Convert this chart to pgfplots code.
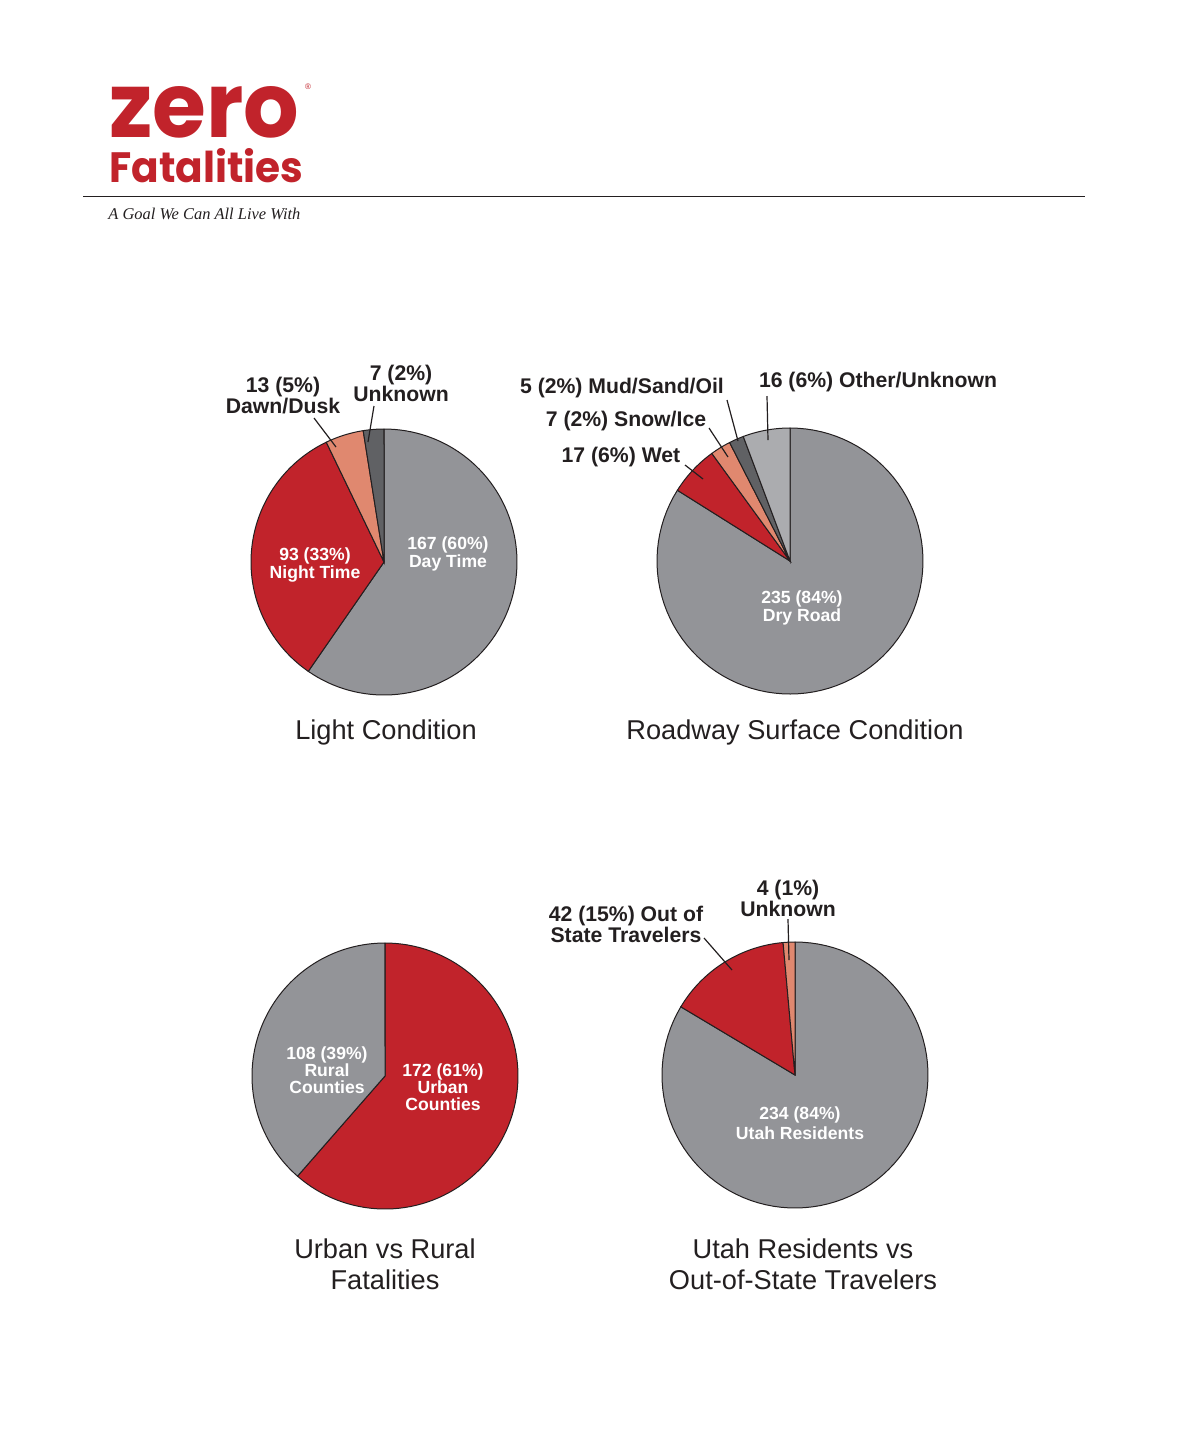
\documentclass[border=0pt]{standalone}
\usepackage{pgfplots}
\pgfplotsset{compat=1.18}
\usepackage{fontspec}
\setmainfont{Liberation Sans}
\newfontfamily\logofont{Poppins}
\newfontfamily\tagfont{Liberation Serif}
\definecolor{pgray}{HTML}{939498}
\definecolor{pred}{HTML}{C1232B}
\definecolor{psalmon}{HTML}{E0886F}
\definecolor{pdark}{HTML}{606164}
\definecolor{plight}{HTML}{ABACAF}
\definecolor{ptext}{HTML}{231F20}
% slice: cx, cy, cumulative before, value, colour  (total = 280)
\newcommand{\slice}[5]{%
  \addplot[draw=ptext, line width=0.5pt, fill=#5, mark=none,
    domain=-90+#3/280*360:-90+(#3+#4)/280*360, samples=90, variable=\t]
    ({#1+133*cos(\t)},{#2+133*sin(\t)}) -- (axis cs:#1,#2) -- cycle;}
\tikzset{lbl/.style={font=\bfseries\fontsize{10.6}{10.5}\selectfont, text=ptext, align=center, inner sep=0pt},
  inl/.style={font=\bfseries\fontsize{8.8}{8.6}\selectfont, text=white, align=center, inner sep=0pt},
  ttl/.style={font=\fontsize{13.6}{15.5}\selectfont, text=ptext, align=center, inner sep=0pt},
  lead/.style={draw=ptext, line width=0.6pt}}
\begin{document}
\begin{tikzpicture}
\begin{axis}[scale only axis, width=590pt, height=724pt,
  xmin=0, xmax=1180, ymin=0, ymax=1448, y dir=reverse,
  hide axis, clip=false]
\path (rel axis cs:0,0) rectangle (rel axis cs:1,1);
% ---------- header ----------
\node[anchor=south west, inner sep=0pt, text=pred] at (axis cs:109,139)
  {\resizebox{95pt}{25.5pt}{\logofont\bfseries zero}};
\node[inner sep=0pt, text=pred, font=\fontsize{4}{4}\selectfont] at (axis cs:308,87) {\textregistered};
\node[anchor=south west, inner sep=0pt, text=pred] at (axis cs:109,183)
  {\resizebox{97pt}{17pt}{\logofont\bfseries Fatalities}};
\addplot[draw=ptext, line width=0.5pt, mark=none] coordinates {(83,196) (1085,196)};
\node[anchor=base west, inner sep=0pt, text=ptext] at (axis cs:108,219)
  {\resizebox{96pt}{!}{\tagfont\itshape A Goal We Can All Live With}};
% ---------- Light condition ----------
\slice{384}{562}{0}{167}{pgray}
\slice{384}{562}{167}{93}{pred}
\slice{384}{562}{260}{13}{psalmon}
\slice{384}{562}{273}{7}{pdark}
\node[inl] at (axis cs:448,554) {167 (60\%)\\Day Time};
\node[inl] at (axis cs:315,565) {93 (33\%)\\Night Time};
\node[lbl] at (axis cs:283,396) {13 (5\%)\\Dawn/Dusk};
\node[lbl] at (axis cs:401,383) {7 (2\%)\\Unknown};
\addplot[lead, mark=none] coordinates {(314,418) (336,447)};
\addplot[lead, mark=none] coordinates {(374,406) (368,442)};
\node[ttl] at (axis cs:386,732) {Light Condition};
% ---------- Roadway surface ----------
\slice{790}{561}{0}{235}{pgray}
\slice{790}{561}{235}{17}{pred}
\slice{790}{561}{252}{7}{psalmon}
\slice{790}{561}{259}{5}{pdark}
\slice{790}{561}{264}{16}{plight}
\node[inl] at (axis cs:802,608) {235 (84\%)\\Dry Road};
\node[lbl] at (axis cs:622,388) {5 (2\%) Mud/Sand/Oil};
\node[lbl] at (axis cs:626,421) {7 (2\%) Snow/Ice};
\node[lbl] at (axis cs:621,457) {17 (6\%) Wet};
\node[lbl] at (axis cs:878,382) {16 (6\%) Other/Unknown};
\addplot[lead, mark=none] coordinates {(727,400) (738,441)};
\addplot[lead, mark=none] coordinates {(709,428) (728,457)};
\addplot[lead, mark=none] coordinates {(685,465) (703,479)};
\addplot[lead, mark=none] coordinates {(767,396) (768,440)};
\node[ttl] at (axis cs:795,732) {Roadway Surface Condition};
% ---------- Urban vs rural ----------
\slice{385}{1076}{0}{172}{pred}
\slice{385}{1076}{172}{108}{pgray}
\node[inl] at (axis cs:327,1070) {108 (39\%)\\Rural\\Counties};
\node[inl] at (axis cs:443,1087) {172 (61\%)\\Urban\\Counties};
\node[ttl] at (axis cs:385,1264) {Urban vs Rural\\Fatalities};
% ---------- Utah residents ----------
\slice{795}{1075}{0}{234}{pgray}
\slice{795}{1075}{234}{42}{pred}
\slice{795}{1075}{276}{4}{psalmon}
\node[inl, font=\bfseries\fontsize{8.8}{10}\selectfont] at (axis cs:800,1123) {234 (84\%)\\Utah Residents};
\node[lbl] at (axis cs:626,924) {42 (15\%) Out of\\State Travelers};
\node[lbl] at (axis cs:788,898) {4 (1\%)\\Unknown};
\addplot[lead, mark=none] coordinates {(704,938) (732,970)};
\addplot[lead, mark=none] coordinates {(788,919) (789,960)};
\node[ttl] at (axis cs:803,1264) {Utah Residents vs\\Out-of-State Travelers};
\end{axis}
\end{tikzpicture}
\end{document}
